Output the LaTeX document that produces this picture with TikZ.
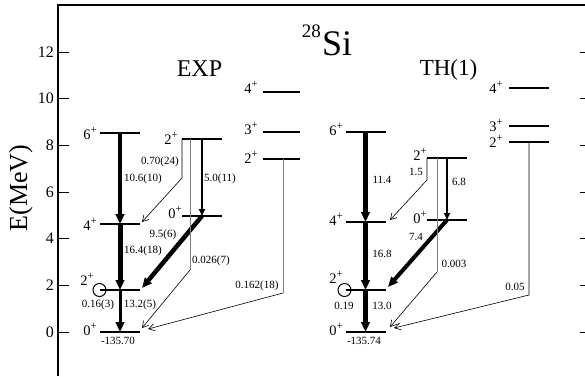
\documentclass[tikz,border=0pt]{standalone}
\usepackage{fontspec}
\setmainfont{Liberation Serif}
\usetikzlibrary{arrows.meta,positioning}
\newcommand{\nivelj}[1]{#1\raisebox{6pt}{\fontsize{11}{11}\selectfont +}}

\begin{document}
\begin{tikzpicture}[
  x=1pt, y=-1pt,
  nivel/.style={line width=1.4pt},
  espin/.style={anchor=base east, inner sep=0pt, font=\fontsize{14.5}{14.5}\selectfont},
  valor/.style={inner sep=0pt, font=\fontsize{11}{11}\selectfont},
  eje/.style={inner sep=0pt, font=\fontsize{16}{16}\selectfont},
  marca/.style={line width=0.8pt},
  gruesa/.style={line width=#1, -{Triangle[length=10pt,width=8.5pt]}},
  media/.style={line width=1.6pt, -{Triangle[length=7pt,width=6pt]}},
  fina/.style={line width=0.6pt, -{Straight Barb[length=6pt,width=7pt]}},
  gris/.style={draw=black!50, line width=1pt},
  anillo/.style={circle, draw, line width=1pt, minimum size=13pt, inner sep=0pt}
]
\useasboundingbox (0,0) rectangle (585,376);

% marco y ejes
\draw[line width=1.8pt] (58,376) -- (58,5) -- (585,5);
\foreach \e in {0,2,...,12}{
  \draw[marca] (58,{332-23.33*\e}) -- (69,{332-23.33*\e});
  \draw[marca] (580,{332-23.33*\e}) -- (585,{332-23.33*\e});
  \node[eje, anchor=east] (m\e) at (54,{332-23.33*\e}) {\e};
}
\node[anchor=base, rotate=90, inner sep=0pt, font=\fontsize{26}{26}\selectfont] (ylab) at (27,188) {E(MeV)};

% titulos
\node[anchor=base west, inner sep=0pt, font=\fontsize{36}{36}\selectfont] (si) at (322,55) {Si};
\node[anchor=base east, inner sep=0pt, font=\fontsize{19}{19}\selectfont] (masa) at (321,37) {28};
\node[anchor=base, inner sep=0pt, font=\fontsize{24}{24}\selectfont] (exp) at (199.5,76) {EXP};
\node[anchor=base, inner sep=0pt, font=\fontsize{23}{23}\selectfont] (th) at (448.5,75) {TH(1)};

% niveles EXP
\coordinate (e6) at (120,133);
\coordinate (e4) at (120,224);
\coordinate (e2) at (120,290);
\coordinate (e0) at (120,332);
\coordinate (eb2) at (202,139);
\coordinate (eb0) at (202,216);
\coordinate (ec4) at (281.5,92);
\coordinate (ec3) at (281.5,132);
\coordinate (ec2) at (281.5,159);
% niveles TH
\coordinate (t6) at (365.5,132);
\coordinate (t4) at (365.5,222);
\coordinate (t2) at (365.5,290);
\coordinate (t0) at (365.5,332);
\coordinate (tb2) at (447,158);
\coordinate (tb0) at (447,220);
\coordinate (tc4) at (529,88);
\coordinate (tc3) at (529,126);
\coordinate (tc2) at (529,142);

\foreach \c in {e6,e4,e2,e0,eb2,eb0,t6,t4,t2,t0,tb2,tb0,tc4,tc3,tc2}
  \draw[nivel] ([xshift=-20pt]\c) -- ([xshift=20pt]\c);
\foreach \c in {ec4,ec3,ec2}
  \draw[nivel] ([xshift=-18.5pt]\c) -- ([xshift=18.5pt]\c);

% espines
\node[espin] (s1) at (97,139) {\nivelj{6}};
\node[espin] (s2) at (97,230) {\nivelj{4}};
\node[espin] (s3) at (94,285) {\nivelj{2}};
\node[espin] (s4) at (97,335) {\nivelj{0}};
\node[espin] (s5) at (178,144) {\nivelj{2}};
\node[espin] (s6) at (182,218) {\nivelj{0}};
\node[espin] (s7) at (258,93) {\nivelj{4}};
\node[espin] (s8) at (258,134) {\nivelj{3}};
\node[espin] (s9) at (258,163) {\nivelj{2}};
\node[espin] (s10) at (343,135) {\nivelj{6}};
\node[espin] (s11) at (343,225) {\nivelj{4}};
\node[espin] (s12) at (343,283) {\nivelj{2}};
\node[espin] (s13) at (343,335) {\nivelj{0}};
\node[espin] (s14) at (427,160) {\nivelj{2}};
\node[espin] (s15) at (427,223) {\nivelj{0}};
\node[espin] (s16) at (503,93) {\nivelj{4}};
\node[espin] (s17) at (503,131) {\nivelj{3}};
\node[espin] (s18) at (503,147) {\nivelj{2}};

% transiciones EXP
\coordinate (ea1) at (182,139);
\coordinate (eq1) at (182,178);
\coordinate (ep4) at (142,222);
\coordinate (ep2) at (142,288);
\coordinate (ea2) at (190,139);
\coordinate (eq2) at (190,270);
\coordinate (ep0) at (142,328);
\coordinate (ea3) at (283,159);
\coordinate (eq3) at (283,293);
\coordinate (ep0b) at (148,329);

\draw[gruesa=4pt] (e6) -- (e4);
\draw[gruesa=5pt] (e4) -- (e2);
\draw[gruesa=3pt] (e2) -- (e0);
\draw[media] (eb2) -- (eb0);
\draw[gruesa=4.5pt] (eb0) -- (ep2);
\draw[fina] (ea1) -- (eq1) -- (ep4);
\draw[gris] (ea2) -- (eq2);
\draw[fina] (eq2) -- (ep0);
\draw[gris] (ea3) -- (eq3);
\draw[fina] (eq3) -- (ep0b);
\node[anillo] (ce) at (99.5,290) {};

% transiciones TH
\coordinate (ta1) at (427,158);
\coordinate (tq1) at (427,180);
\coordinate (tp4) at (390,220);
\coordinate (tp2) at (388,287);
\coordinate (ta2) at (437,158);
\coordinate (tq2) at (437,272);
\coordinate (tp0) at (390,327);
\coordinate (tq3) at (529,295);
\coordinate (tp0b) at (394,328);

\draw[gruesa=5pt] (t6) -- (t4);
\draw[gruesa=5.5pt] (t4) -- (t2);
\draw[gruesa=5pt] (t2) -- (t0);
\draw[media] (tb2) -- (tb0);
\draw[gruesa=4pt] (tb0) -- (tp2);
\draw[fina] (ta1) -- (tq1) -- (tp4);
\draw[gris] (ta2) -- (tq2);
\draw[fina] (tq2) -- (tp0);
\draw[fina] (tc2) -- (tq3) -- (tp0b);
\node[anillo] (ct) at (344.5,290) {};

% valores EXP
\node[valor] (v1) at (160,162) {0.70(24)};
\node[valor] (v2) at (143,179) {10.6(10)};
\node[valor] (v3) at (220,179) {5.0(11)};
\node[valor] (v4) at (163,235) {9.5(6)};
\node[valor] (v5) at (143,251) {16.4(18)};
\node[valor] (v6) at (211,261) {0.026(7)};
\node[valor] (v7) at (257,286) {0.162(18)};
\node[valor] (v8) at (98,305) {0.16(3)};
\node[valor] (v9) at (140,305) {13.2(5)};
\node[valor] (v10) at (118,341) {-135.70};

% valores TH
\node[valor] (w1) at (382,180) {11.4};
\node[valor] (w2) at (416,172) {1.5};
\node[valor] (w3) at (459,182) {6.8};
\node[valor] (w4) at (416,237) {7.4};
\node[valor] (w5) at (382,254) {16.8};
\node[valor] (w6) at (454,264) {0.003};
\node[valor] (w7) at (515,287) {0.05};
\node[valor] (w8) at (344,306) {0.19};
\node[valor] (w9) at (382,306) {13.0};
\node[valor] (w10) at (364,341) {-135.74};

\end{tikzpicture}
\end{document}
